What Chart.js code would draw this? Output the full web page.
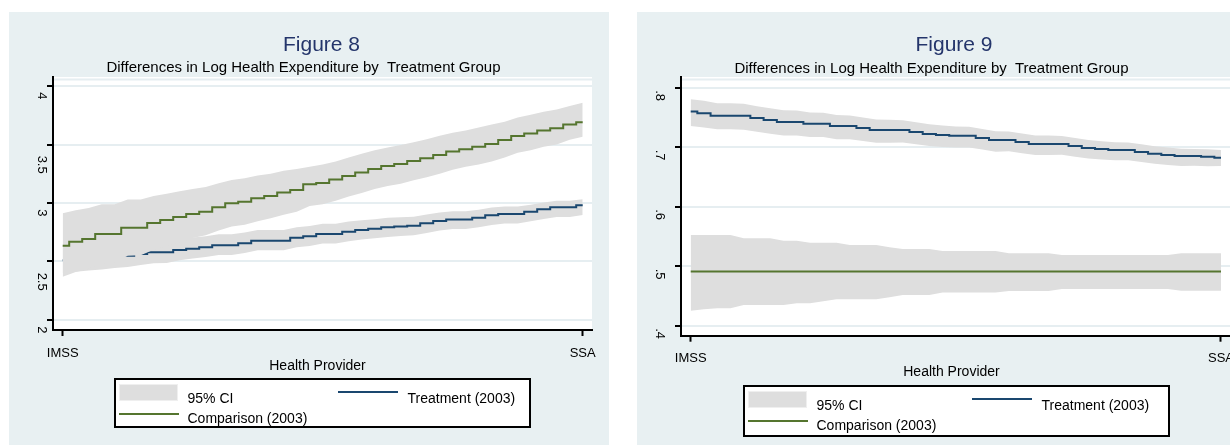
<!DOCTYPE html>
<html>
<head>
<meta charset="utf-8">
<script src="https://cdn.jsdelivr.net/npm/chart.js@4.4.1/dist/chart.umd.min.js"></script>
<style>
  html, body { margin: 0; padding: 0; background: #ffffff; }
  body { position: relative; width: 1230px; height: 445px; overflow: hidden;
         font-family: "Liberation Sans", Arial, Helvetica, sans-serif; }
  .panel { position: absolute; top: 12px; height: 433px; width: 600px; background: #e8f0f2; }
  .panel canvas { position: absolute; left: 0; top: 0; }
  .t { position: absolute; white-space: pre; color: #000; }
  .box { position: absolute; box-sizing: border-box; }
</style>
</head>
<body>
<div class="panel" id="p8" style="left:9px"><canvas id="fig8" width="600" height="433"></canvas></div>
<div class="panel" id="p9" style="left:637px"><canvas id="fig9" width="600" height="433"></canvas></div>
<script>
// Position along the provider axis (IMSS = 0, SSA = 1)
const providerPos = [0, 0.025, 0.05, 0.075, 0.1, 0.125, 0.15, 0.175, 0.2, 0.225, 0.25,
  0.275, 0.3, 0.325, 0.35, 0.375, 0.4, 0.425, 0.45, 0.475, 0.5, 0.525, 0.55, 0.575, 0.6,
  0.625, 0.65, 0.675, 0.7, 0.725, 0.75, 0.775, 0.8, 0.825, 0.85, 0.875, 0.9, 0.925, 0.95,
  0.975, 1];
const providerTickPos = [0, 1];
const providerLabels = ['IMSS', 'SSA'];

// Figure 8
const fig8Ticks = [2, 2.5, 3, 3.5, 4];
const fig8TickLabels = ['2', '2.5', '3', '3.5', '4'];
const fig8Treatment = [2.51, 2.52, 2.53, 2.535, 2.545, 2.55, 2.565, 2.578, 2.578, 2.598, 2.61,
  2.621, 2.638, 2.638, 2.655, 2.678, 2.678, 2.678, 2.703, 2.715, 2.735, 2.735, 2.755, 2.769,
  2.78, 2.792, 2.80, 2.806, 2.826, 2.846, 2.86, 2.86, 2.875, 2.895, 2.906, 2.906, 2.926,
  2.946, 2.963, 2.963, 2.98];
const fig8TreatmentHi = [2.62, 2.628, 2.637, 2.64, 2.649, 2.652, 2.666, 2.677, 2.677, 2.694,
  2.705, 2.715, 2.732, 2.732, 2.747, 2.769, 2.769, 2.769, 2.792, 2.803, 2.823, 2.823, 2.841,
  2.853, 2.862, 2.873, 2.879, 2.883, 2.901, 2.919, 2.93, 2.93, 2.943, 2.961, 2.97, 2.97,
  2.986, 3.004, 3.019, 3.019, 3.032];
const fig8TreatmentLo = [2.40, 2.412, 2.424, 2.432, 2.444, 2.452, 2.47, 2.485, 2.487, 2.51,
  2.525, 2.539, 2.556, 2.556, 2.573, 2.596, 2.596, 2.596, 2.621, 2.633, 2.653, 2.653, 2.673,
  2.687, 2.698, 2.71, 2.718, 2.724, 2.744, 2.764, 2.778, 2.778, 2.793, 2.813, 2.824, 2.824,
  2.844, 2.864, 2.881, 2.881, 2.898];
const fig8Comparison = [2.635, 2.669, 2.692, 2.735, 2.735, 2.789, 2.789, 2.83, 2.855, 2.88,
  2.906, 2.926, 2.963, 2.997, 3.011, 3.04, 3.06, 3.09, 3.111, 3.16, 3.17, 3.2, 3.23, 3.26,
  3.29, 3.316, 3.333, 3.36, 3.382, 3.41, 3.44, 3.46, 3.481, 3.504, 3.538, 3.573, 3.595, 3.62,
  3.638, 3.67, 3.69];
const fig8ComparisonHi = [2.912, 2.939, 2.957, 2.99, 2.99, 3.03, 3.03, 3.06, 3.08, 3.10, 3.12,
  3.136, 3.168, 3.197, 3.211, 3.235, 3.25, 3.275, 3.29, 3.31, 3.33, 3.355, 3.39, 3.42, 3.45,
  3.475, 3.496, 3.52, 3.545, 3.575, 3.6, 3.62, 3.645, 3.67, 3.695, 3.73, 3.755, 3.78, 3.8,
  3.83, 3.857];
const fig8ComparisonLo = [2.37, 2.41, 2.437, 2.485, 2.49, 2.549, 2.554, 2.60, 2.63, 2.66, 2.70,
  2.725, 2.765, 2.80, 2.815, 2.845, 2.87, 2.90, 2.925, 2.975, 2.99, 3.02, 3.055, 3.085, 3.12,
  3.145, 3.165, 3.195, 3.22, 3.25, 3.285, 3.31, 3.33, 3.355, 3.39, 3.43, 3.45, 3.48, 3.5,
  3.54, 3.567];

// Figure 9
const fig9Ticks = [0.4, 0.5, 0.6, 0.7, 0.8];
const fig9TickLabels = ['.4', '.5', '.6', '.7', '.8'];
const fig9Treatment = [0.760, 0.757, 0.753, 0.753, 0.753, 0.749, 0.7457, 0.7424, 0.7424,
  0.7395, 0.7395, 0.7356, 0.7356, 0.7323, 0.729, 0.729, 0.729, 0.7256, 0.7222, 0.7205,
  0.7193, 0.7193, 0.7155, 0.712, 0.712, 0.7087, 0.7054, 0.7054, 0.7054, 0.702, 0.6987,
  0.697, 0.6953, 0.6953, 0.692, 0.689, 0.687, 0.6852, 0.6852, 0.684, 0.6824];
const fig9TreatmentHi = [0.7805, 0.778, 0.774, 0.774, 0.773, 0.769, 0.7655, 0.762, 0.7615,
  0.7585, 0.758, 0.754, 0.7535, 0.750, 0.7465, 0.746, 0.7455, 0.742, 0.7385, 0.7365, 0.735,
  0.7345, 0.7305, 0.727, 0.7265, 0.723, 0.7195, 0.7195, 0.719, 0.7155, 0.712, 0.710, 0.7085,
  0.708, 0.705, 0.7015, 0.6995, 0.6975, 0.697, 0.6965, 0.6953];
const fig9TreatmentLo = [0.7356, 0.733, 0.730, 0.730, 0.7295, 0.726, 0.7225, 0.7195, 0.7195,
  0.717, 0.717, 0.7135, 0.7135, 0.7105, 0.7075, 0.7075, 0.708, 0.705, 0.702, 0.7005, 0.6995,
  0.6995, 0.696, 0.6925, 0.693, 0.690, 0.687, 0.687, 0.6875, 0.684, 0.681, 0.6795, 0.678,
  0.678, 0.675, 0.672, 0.670, 0.6685, 0.669, 0.668, 0.6684];
const fig9Comparison = [0.491, 0.491, 0.491, 0.491, 0.491, 0.491, 0.491, 0.491, 0.491, 0.491,
  0.491, 0.491, 0.491, 0.491, 0.491, 0.491, 0.491, 0.491, 0.491, 0.491, 0.491, 0.491, 0.491,
  0.491, 0.491, 0.491, 0.491, 0.491, 0.491, 0.491, 0.491, 0.491, 0.491, 0.491, 0.491, 0.491,
  0.491, 0.491, 0.491, 0.491, 0.491];
const fig9ComparisonHi = [0.5524, 0.5524, 0.5524, 0.5524, 0.5469, 0.5469, 0.5469, 0.5429,
  0.5429, 0.5395, 0.5395, 0.5395, 0.5356, 0.5356, 0.5356, 0.532, 0.5289, 0.5289, 0.5289,
  0.5255, 0.5255, 0.5255, 0.5255, 0.5255, 0.5217, 0.5217, 0.5217, 0.5217, 0.5188, 0.5188,
  0.5188, 0.5188, 0.5188, 0.5188, 0.5188, 0.5188, 0.5188, 0.5217, 0.5217, 0.5217, 0.5217];
const fig9ComparisonLo = [0.4252, 0.4275, 0.4292, 0.4292, 0.4348, 0.4348, 0.4348, 0.4348,
  0.4376, 0.4376, 0.441, 0.4444, 0.4444, 0.4444, 0.4444, 0.448, 0.4516, 0.4516, 0.4516,
  0.4558, 0.4558, 0.4558, 0.4558, 0.4558, 0.4583, 0.4583, 0.4583, 0.4583, 0.4617, 0.4617,
  0.4617, 0.4617, 0.4617, 0.4617, 0.4617, 0.4617, 0.4617, 0.4588, 0.4588, 0.4588, 0.4588];

const FONT = '"Liberation Sans", Arial, Helvetica, sans-serif';
const NAVY = '#1a476f';
const GREEN = '#55752f';
const CI_GRAY = '#dedede';
const GRID = '#e6eef1';
const TITLE = '#24356b';

// Stata-like plot frame: white plot region, rotated y labels, provider labels
const stataFrame = {
  id: 'stataFrame',
  beforeDraw(chart) {
    const { ctx, chartArea: a } = chart;
    ctx.save();
    ctx.fillStyle = '#ffffff';
    ctx.fillRect(a.left, a.top, a.right - a.left, a.bottom - a.top);
    ctx.strokeStyle = GRID;
    ctx.lineWidth = 2;
    ctx.beginPath();
    ctx.moveTo(a.left, a.top + 2.5);
    ctx.lineTo(a.right, a.top + 2.5);
    ctx.stroke();
    ctx.restore();
  },
  afterDraw(chart, args, opts) {
    const { ctx, chartArea: a, scales } = chart;
    ctx.save();
    ctx.fillStyle = '#000';
    ctx.font = '13px ' + FONT;
    opts.yTicks.forEach((v, i) => {
      const label = opts.yLabels[i];
      const py = scales.y.getPixelForValue(v);
      const w = ctx.measureText(label).width;
      ctx.save();
      ctx.translate(a.left - opts.yGap, py + opts.yStart + opts.yStartScale * w);
      ctx.rotate(Math.PI / 2);
      ctx.textAlign = 'left';
      ctx.textBaseline = 'alphabetic';
      ctx.fillText(label, 0, 0);
      ctx.restore();
    });
    ctx.textAlign = 'center';
    ctx.textBaseline = 'alphabetic';
    opts.xTicks.forEach((v, i) => {
      ctx.fillText(opts.xLabels[i], scales.x.getPixelForValue(v), a.bottom + opts.xGap);
    });
    ctx.restore();
  }
};

function pts(values) {
  return providerPos.map((x, i) => ({ x, y: values[i] }));
}

function makeChart(id, s) {
  const band = (hi, lo, order) => [
    { data: pts(hi), fill: '+1', backgroundColor: CI_GRAY, borderColor: 'rgba(0,0,0,0)',
      borderWidth: 0, pointRadius: 0, tension: 0, order },
    { data: pts(lo), fill: false, borderColor: 'rgba(0,0,0,0)', borderWidth: 0,
      pointRadius: 0, tension: 0, order }
  ];
  const line = (vals, color, order) => ({
    data: pts(vals), fill: false, borderColor: color, borderWidth: 2, pointRadius: 0,
    stepped: 'middle', order
  });
  return new Chart(document.getElementById(id), {
    type: 'line',
    data: {
      datasets: [
        ...band(s.tHi, s.tLo, 5),
        line(s.t, NAVY, 4),
        ...band(s.cHi, s.cLo, 3),
        line(s.c, GREEN, 2)
      ]
    },
    options: {
      responsive: false,
      animation: false,
      events: [],
      layout: { padding: s.padding },
      plugins: {
        legend: { display: false },
        tooltip: { enabled: false },
        stataFrame: {
          yTicks: s.yTicks, yLabels: s.yLabels, yGap: s.yGap, yStart: s.yStart,
          yStartScale: s.yStartScale, xTicks: providerTickPos, xLabels: providerLabels,
          xGap: 26.7
        }
      },
      scales: {
        x: {
          type: 'linear', min: s.xMin, max: s.xMax,
          afterBuildTicks: (sc) => { sc.ticks = providerTickPos.map(v => ({ value: v })); },
          afterFit: (sc) => { sc.height = 6; },
          ticks: { display: false },
          grid: { drawOnChartArea: false, drawTicks: true, tickLength: 6, tickColor: '#000', tickWidth: 2 },
          border: { display: true, color: '#000', width: 2 }
        },
        y: {
          type: 'linear', min: s.yMin, max: s.yMax,
          afterBuildTicks: (sc) => { sc.ticks = s.yTicks.map(v => ({ value: v })); },
          afterFit: (sc) => { sc.width = 44; },
          ticks: { display: false },
          grid: { color: GRID, lineWidth: 2, drawTicks: true, tickLength: 6, tickColor: '#000', tickWidth: 2 },
          border: { display: true, color: '#000', width: 2 }
        }
      }
    },
    plugins: [stataFrame]
  });
}

makeChart('fig8', {
  t: fig8Treatment, tHi: fig8TreatmentHi, tLo: fig8TreatmentLo,
  c: fig8Comparison, cHi: fig8ComparisonHi, cLo: fig8ComparisonLo,
  yTicks: fig8Ticks, yLabels: fig8TickLabels,
  yMin: 1.9145, yMax: 4.077, xMin: -0.01865, xMax: 1.0179,
  padding: { left: 0, top: 65, right: 17, bottom: 109 },
  yGap: 14.6, yStart: 3, yStartScale: 0.45
});

makeChart('fig9', {
  t: fig9Treatment, tHi: fig9TreatmentHi, tLo: fig9TreatmentLo,
  c: fig9Comparison, cHi: fig9ComparisonHi, cLo: fig9ComparisonLo,
  yTicks: fig9Ticks, yLabels: fig9TickLabels,
  yMin: 0.3832, yMax: 0.818, xMin: -0.0183, xMax: 1.0189,
  padding: { left: 0, top: 65, right: 6, bottom: 103.3 },
  yGap: 25, yStart: 2.5, yStartScale: 0
});

// Text placed by baseline, in page coordinates
const measureCtx = document.createElement('canvas').getContext('2d');
function text(str, x, baseline, size, align, color) {
  measureCtx.font = size + 'px ' + FONT;
  const m = measureCtx.measureText(str);
  const asc = m.fontBoundingBoxAscent, desc = m.fontBoundingBoxDescent;
  const el = document.createElement('div');
  el.className = 't';
  el.textContent = str;
  el.style.fontSize = size + 'px';
  el.style.lineHeight = size + 'px';
  el.style.top = (baseline - ((size - (asc + desc)) / 2 + asc)) + 'px';
  el.style.left = x + 'px';
  if (align === 'center') el.style.transform = 'translateX(-50%)';
  if (color) el.style.color = color;
  document.body.appendChild(el);
}
function rect(x, y, w, h, css) {
  const el = document.createElement('div');
  el.className = 'box';
  el.style.left = x + 'px'; el.style.top = y + 'px';
  el.style.width = w + 'px'; el.style.height = h + 'px';
  Object.assign(el.style, css);
  document.body.appendChild(el);
}

const subtitle = 'Differences in Log Health Expenditure by  Treatment Group';
const seriesNames = ['95% CI', 'Treatment (2003)', 'Comparison (2003)'];

function panelText(p) {
  text(p.title, p.titleX, 50.7, 21, 'center', TITLE);
  text(subtitle, p.subX, p.subY, 15, 'center');
  text('Health Provider', p.axX, p.axY, 14, 'center');
  const L = p.legend;
  rect(L.x, L.y, L.w, L.h, { border: '2px solid #000', background: '#fff' });
  rect(L.x + 5.5, L.y + 5.5, 59, 17.5, { background: CI_GRAY, border: '1px solid #efefef' });
  text(seriesNames[0], L.x + 74, L.y + 25, 14);
  rect(L.x + L.lineX, L.y + 12.8, 60, 2, { background: NAVY });
  text(seriesNames[1], L.x + L.lineX + 69.5, L.y + 25, 14);
  rect(L.x + 5.5, L.y + 34.5, 60, 2, { background: GREEN });
  text(seriesNames[2], L.x + 74, L.y + 45, 14);
}

panelText({ title: 'Figure 8', titleX: 321.5, subX: 303.5, subY: 71.7, axX: 317.5, axY: 370,
  legend: { x: 113.5, y: 378, w: 417.5, h: 50, lineX: 224.5 } });
panelText({ title: 'Figure 9', titleX: 954, subX: 931.5, subY: 73.3, axX: 951.5, axY: 376,
  legend: { x: 742.5, y: 385, w: 427, h: 52, lineX: 229.5 } });
</script>
</body>
</html>
